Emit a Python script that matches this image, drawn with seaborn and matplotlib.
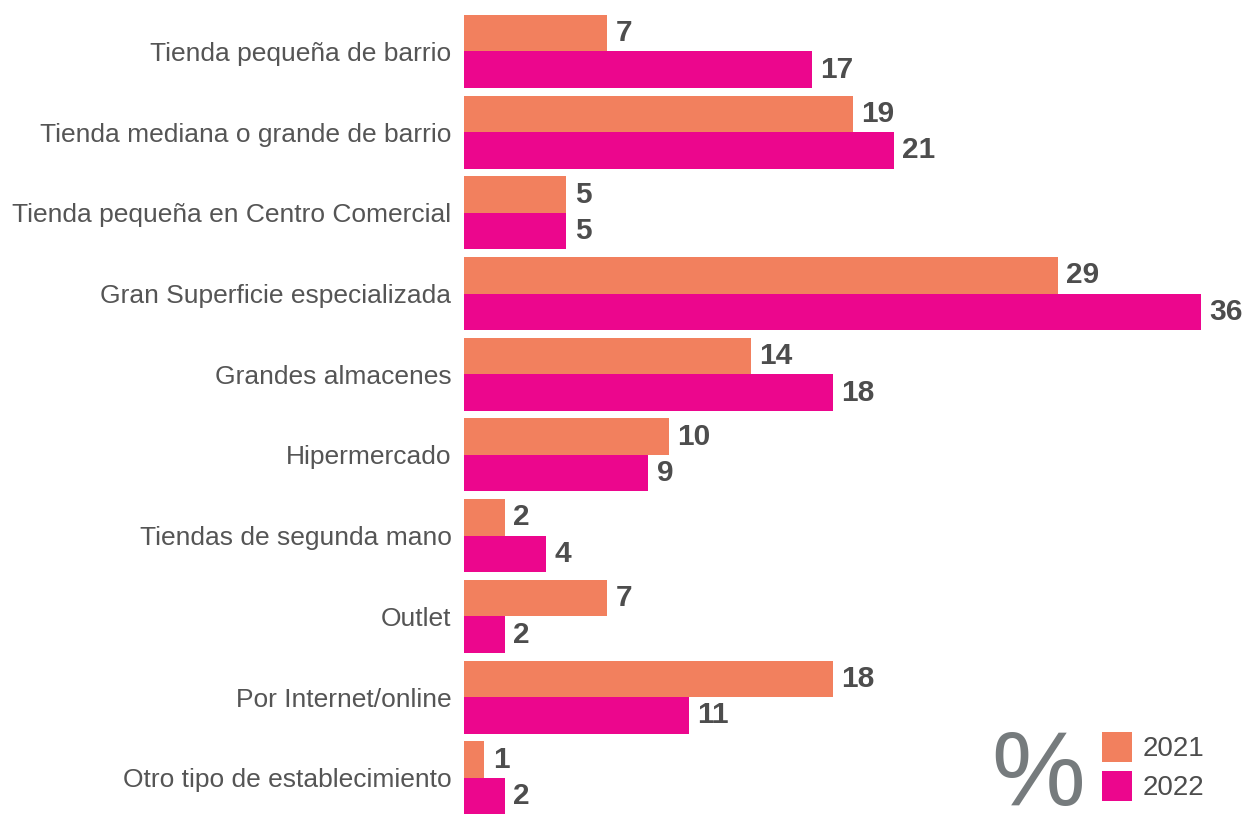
import numpy as np
import pandas as pd
from matplotlib import pyplot as plt
import seaborn as sns

categories = [
    "Tienda pequeña de barrio",
    "Tienda mediana o grande de barrio",
    "Tienda pequeña en Centro Comercial",
    "Gran Superficie especializada",
    "Grandes almacenes",
    "Hipermercado",
    "Tiendas de segunda mano",
    "Outlet",
    "Por Internet/online",
    "Otro tipo de establecimiento",
]
values_2021 = [7, 19, 5, 29, 14, 10, 2, 7, 18, 1]
values_2022 = [17, 21, 5, 36, 18, 9, 4, 2, 11, 2]
years = ["2021", "2022"]
colors = {"2021": "#F2805E", "2022": "#EC068D"}

df = pd.DataFrame({
    "categoria": categories * 2,
    "valor": values_2021 + values_2022,
    "año": [years[0]] * len(categories) + [years[1]] * len(categories),
})

sns.set_style("white")
plt.rcParams["font.family"] = ["Liberation Sans", "DejaVu Sans"]

fig = plt.figure(figsize=(12.42, 8.14), dpi=100)
ax = fig.add_axes([464 / 1242, 0, 1 - 464 / 1242, 1])

sns.barplot(data=df, y="categoria", x="valor", hue="año", orient="h",
            palette=colors, saturation=1, width=0.905, linewidth=0,
            ax=ax, legend=True)

for cont in ax.containers:
    ax.bar_label(cont, padding=6, fontsize=21.5, fontweight="bold", color="#4D4D4D")

ax.set_xlim(0, 38)
ax.set_ylim(9.449, -0.638)
ax.set_xlabel("")
ax.set_ylabel("")
ax.set_xticks([])
ax.tick_params(axis="y", length=0, pad=9, labelsize=19, labelcolor="#555555")
sns.despine(ax=ax, left=True, bottom=True)

handles, labels = ax.get_legend_handles_labels()
ax.legend(handles, labels, loc="lower right", bbox_to_anchor=(0.966, 0.002),
          borderaxespad=0, frameon=False, fontsize=20,
          handlelength=1.05, handleheight=1.3,
          handletextpad=0.4, labelspacing=0.3, labelcolor="#4D4D4D")

fig.text(1038 / 1242, 1 - 778 / 814, "%", fontsize=76, color="#767B7D",
         ha="center", va="center")

fig.savefig("out.png", dpi=100)
